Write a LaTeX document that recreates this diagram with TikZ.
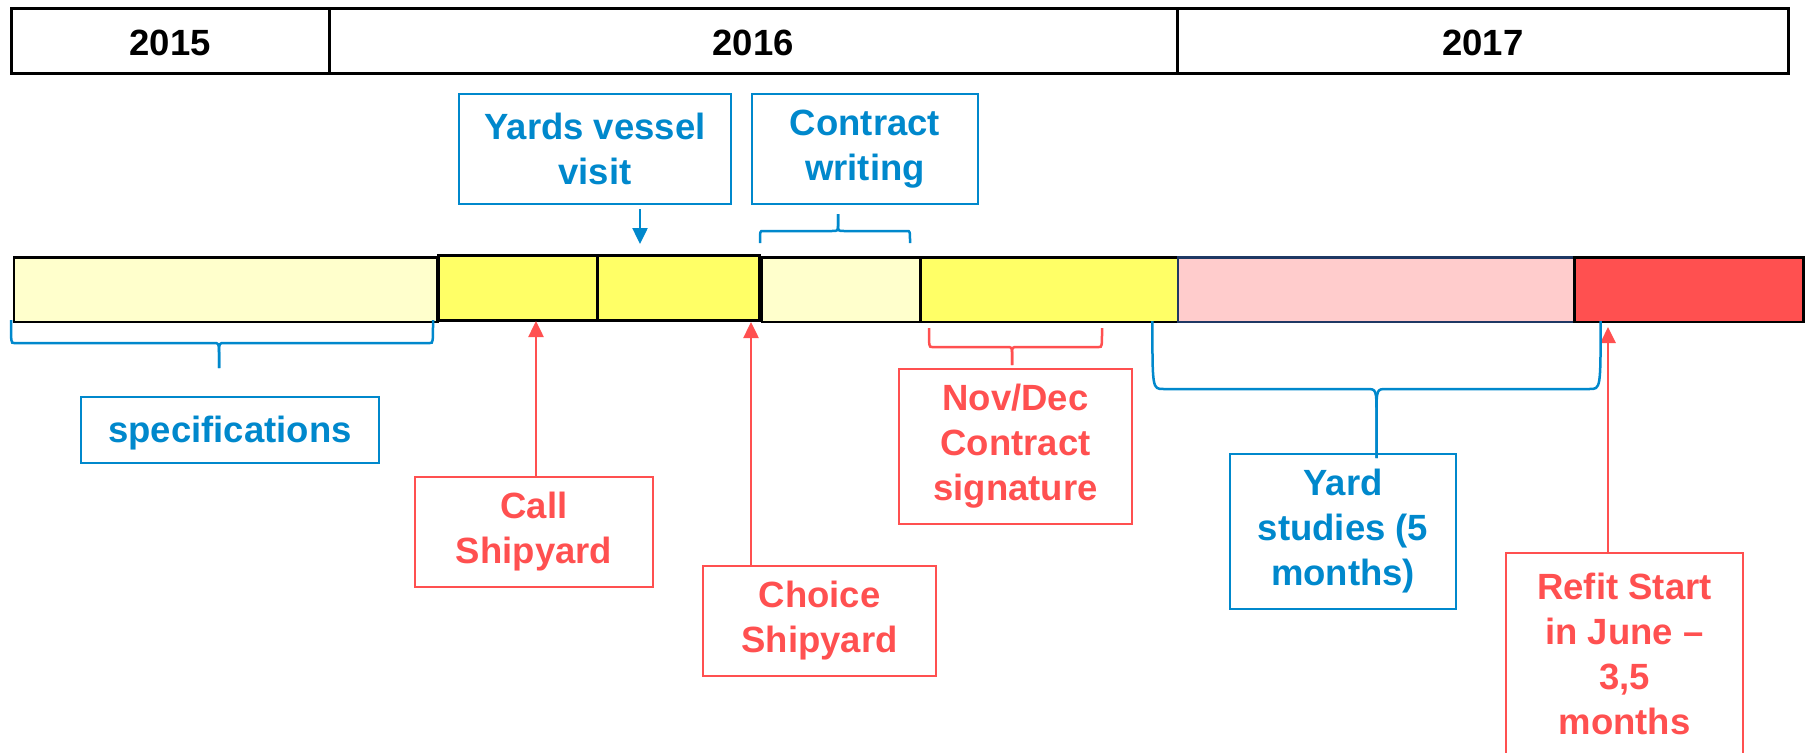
\documentclass[tikz,border=0pt]{standalone}
\usepackage{fontspec}
\setmainfont{Liberation Sans}
\usetikzlibrary{arrows.meta}
\definecolor{cblue}{HTML}{0088CC}
\definecolor{cred}{HTML}{FF5050}
\definecolor{lyellow}{HTML}{FFFFCC}
\definecolor{yyellow}{HTML}{FFFF66}
\definecolor{cpink}{HTML}{FFCCCC}
\definecolor{cnavy}{HTML}{1F3864}
% curly brace: #1 style, #2 xl, #3 xr, #4 y of ends, #5 y of bar, #6 x of tip, #7 y of tip end, #8 end inset, #9 tip half width
\newcommand{\cbrace}[9]{%
  \draw[#1] (#2,#4) .. controls (#2,#5) and (#2,#5) .. ({#2+#8},#5) -- ({#6-#9},#5)
     .. controls (#6,#5) and (#6,#5) .. (#6,{#5+0.4*(#7-#5)}) -- (#6,#7);
  \draw[#1] (#3,#4) .. controls (#3,#5) and (#3,#5) .. ({#3-#8},#5) -- ({#6+#9},#5)
     .. controls (#6,#5) and (#6,#5) .. (#6,{#5+0.4*(#7-#5)}) -- (#6,#7);}
\begin{document}
\begin{tikzpicture}[x=1pt,y=-1pt,
  txt/.style={font=\fontsize{36.5pt}{45pt}\selectfont\bfseries, align=center, inner sep=0pt},
  lbl/.style={txt, execute at begin node={\rule{0pt}{32pt}}},
  yearbox/.style={draw=black, line width=2.5pt, txt, anchor=north west, minimum height=65pt,
     execute at begin node={\rule{0pt}{29pt}}},
  barbox/.style={draw=black, line width=2.5pt, anchor=north west, inner sep=0pt},
  bluebox/.style={draw=cblue, line width=2pt, text=cblue, lbl},
  redbox/.style={draw=cred, line width=2pt, text=cred, lbl},
  bluearrow/.style={draw=cblue, line width=2.5pt, -{Triangle[length=16pt,width=15pt]}},
  redarrow/.style={draw=cred, line width=2.5pt, -{Triangle[length=16pt,width=15pt]}},
  bluebrace/.style={draw=cblue, line width=2.5pt},
  redbrace/.style={draw=cred, line width=2.5pt}]
\useasboundingbox (0,0) rectangle (1806,752);

% year header
\node[yearbox, minimum width=318pt] (y2015) at (10,7.3) {2015};
\node[yearbox, minimum width=848pt] (y2016) at (328,7.3) {2016};
\node[yearbox, minimum width=611pt] (y2017) at (1176,7.3) {2017};

% timeline bar
\node[barbox, fill=lyellow, minimum width=423.4pt, minimum height=64.7pt] (b1) at (12.6,256) {};
\node[barbox, fill=yyellow, minimum width=159pt, minimum height=65pt] (b2) at (437,254) {};
\node[barbox, fill=yyellow, minimum width=162pt, minimum height=65pt] (b3) at (596,254) {};
\node[barbox, fill=lyellow, minimum width=158.4pt, minimum height=64.7pt] (b4) at (760.6,256) {};
\node[barbox, fill=yyellow, minimum width=257.5pt, minimum height=64.7pt] (b5) at (919,256) {};
\node[barbox, fill=cpink, draw=cnavy, minimum width=396.5pt, minimum height=64.7pt] (b6) at (1176.5,256) {};
\node[barbox, fill=cred, minimum width=229pt, minimum height=64.7pt] (b7) at (1573,256) {};

% label boxes
\node[bluebox, minimum width=298pt, minimum height=66pt] (spec) at (230,430) {specifications};
\node[bluebox, minimum width=272pt, minimum height=110pt] (yards) at (595,149) {Yards vessel\\visit};
\node[bluebox, minimum width=226pt, minimum height=110pt] (contract) at (865,149) {Contract\\writing};
\node[redbox, minimum width=238pt, minimum height=110pt] (call) at (534,532) {Call\\Shipyard};
\node[redbox, minimum width=233pt, minimum height=110pt] (choice) at (819.5,621) {Choice\\Shipyard};
\node[redbox, minimum width=233pt, minimum height=155pt] (novdec) at (1015.5,446.5) {Nov/Dec\\Contract\\signature};
\node[bluebox, minimum width=226pt, minimum height=155pt] (yard) at (1343,531.5) {Yard\\studies (5\\months)};
\node[redbox, draw=none, anchor=north, minimum width=235pt, minimum height=199pt] (refit) at (1624.5,553) {Refit Start\\in June --\\3,5\\months};
\draw[cred, line width=2pt] (refit.south west) -- (refit.north west) -- (refit.north east) -- (refit.south east);

% arrow targets
\coordinate (yv) at (640,244);
\coordinate (ca) at (536,321);
\coordinate (ch) at (751,322);
\coordinate (rf) at (1608,327);

% arrows
\draw[bluearrow] ([yshift=-4pt]yards.south -| yv) -- (yv);
\draw[redarrow] (call.north -| ca) -- (ca);
\draw[redarrow] (choice.north -| ch) -- (ch);
\draw[redarrow] (refit.north -| rf) -- (rf);

% braces
\cbrace{bluebrace}{11}{433}{320}{343}{219}{368}{3}{6}
\cbrace{bluebrace}{760}{910}{243}{231}{838}{214}{3}{6}
\cbrace{redbrace}{929}{1102}{328}{347}{1012}{365}{3}{6}
\cbrace{bluebrace}{1152.4}{1600.6}{321}{389}{1376.5}{458}{11}{10}
\end{tikzpicture}
\end{document}
